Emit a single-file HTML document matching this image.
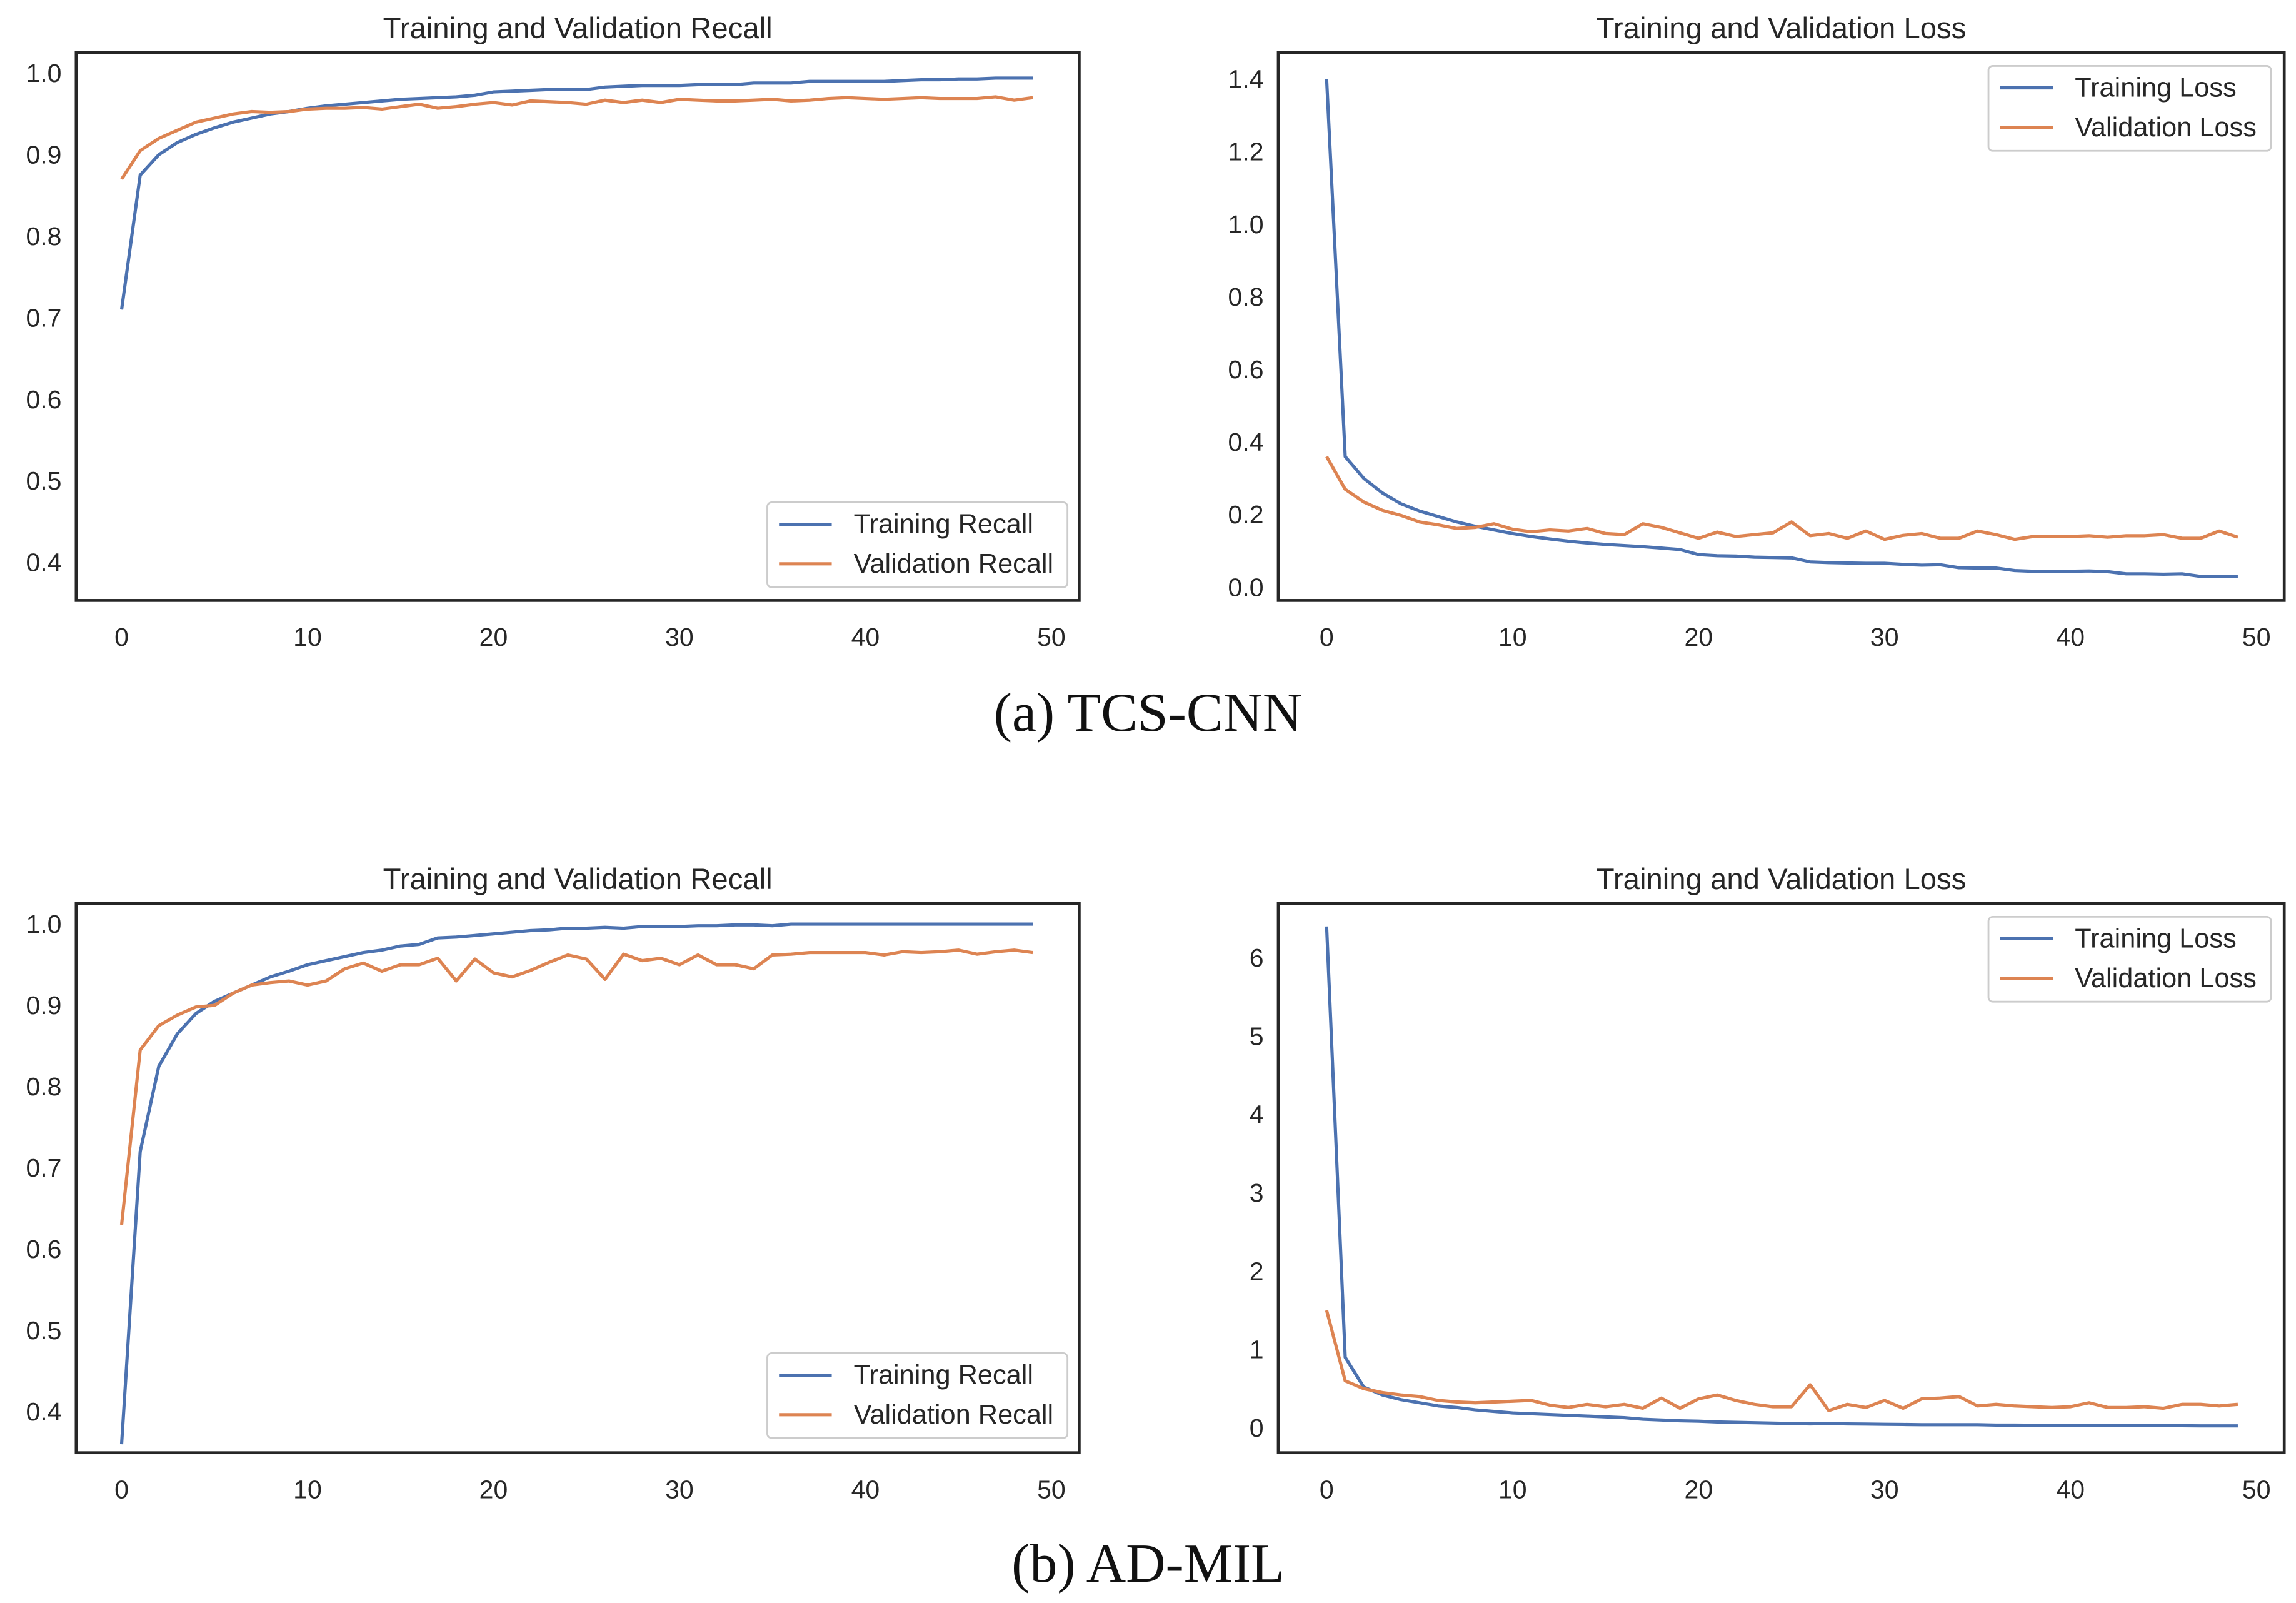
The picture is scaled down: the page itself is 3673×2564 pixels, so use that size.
<!DOCTYPE html>
<html><head><meta charset="utf-8"><style>
html,body{margin:0;padding:0;background:#fff;}
svg{display:block;}
</style></head><body>
<svg id="fig" xmlns="http://www.w3.org/2000/svg" width="3673" height="2564" viewBox="0 0 1568 1094.6" font-family="'Liberation Sans', sans-serif">
<rect width="1568" height="1095" fill="#fff"/>
<text x="784" y="499" text-anchor="middle" font-family="'Liberation Serif', serif" font-size="37.5" fill="#111">(a) TCS-CNN</text>
<text x="784" y="1080" text-anchor="middle" font-family="'Liberation Serif', serif" font-size="37.5" fill="#111">(b) AD-MIL</text>
</svg>
<script>
const epochs = Array.from({length:50},(_,i)=>i);
const xTicks = [0,10,20,30,40,50];
const recallATrain = [0.71,0.875,0.90,0.915,0.925,0.933,0.94,0.945,0.95,0.953,0.957,0.96,0.962,0.964,0.966,0.968,0.969,0.97,0.971,0.973,0.977,0.978,0.979,0.98,0.98,0.98,0.983,0.984,0.985,0.985,0.985,0.986,0.986,0.986,0.988,0.988,0.988,0.99,0.99,0.99,0.99,0.99,0.991,0.992,0.992,0.993,0.993,0.994,0.994,0.994];
const recallAVal = [0.87,0.905,0.92,0.93,0.94,0.945,0.95,0.953,0.952,0.953,0.956,0.957,0.957,0.958,0.956,0.959,0.962,0.957,0.959,0.962,0.964,0.961,0.966,0.965,0.964,0.962,0.967,0.964,0.967,0.964,0.968,0.967,0.966,0.966,0.967,0.968,0.966,0.967,0.969,0.97,0.969,0.968,0.969,0.97,0.969,0.969,0.969,0.971,0.967,0.97];
const lossATrain = [1.40,0.36,0.30,0.26,0.23,0.21,0.195,0.18,0.168,0.158,0.148,0.14,0.133,0.127,0.122,0.118,0.115,0.112,0.108,0.104,0.09,0.087,0.086,0.083,0.082,0.081,0.07,0.068,0.067,0.066,0.066,0.063,0.061,0.062,0.054,0.053,0.053,0.046,0.044,0.044,0.044,0.045,0.043,0.037,0.037,0.036,0.037,0.03,0.03,0.03];
const lossAVal = [0.36,0.27,0.235,0.212,0.198,0.18,0.172,0.162,0.165,0.175,0.16,0.153,0.158,0.155,0.162,0.148,0.145,0.175,0.165,0.15,0.135,0.152,0.14,0.145,0.15,0.18,0.142,0.148,0.135,0.155,0.132,0.143,0.148,0.135,0.135,0.155,0.145,0.132,0.14,0.14,0.14,0.142,0.138,0.142,0.142,0.145,0.135,0.135,0.155,0.138];
const recallBTrain = [0.36,0.72,0.825,0.865,0.89,0.905,0.915,0.925,0.935,0.942,0.95,0.955,0.96,0.965,0.968,0.973,0.975,0.983,0.984,0.986,0.988,0.99,0.992,0.993,0.995,0.995,0.996,0.995,0.997,0.997,0.997,0.998,0.998,0.999,0.999,0.998,1.0,1.0,1.0,1.0,1.0,1.0,1.0,1.0,1.0,1.0,1.0,1.0,1.0,1.0];
const recallBVal = [0.63,0.845,0.875,0.888,0.898,0.9,0.915,0.925,0.928,0.93,0.925,0.93,0.945,0.952,0.942,0.95,0.95,0.958,0.93,0.957,0.94,0.935,0.943,0.953,0.962,0.957,0.932,0.963,0.955,0.958,0.95,0.962,0.95,0.95,0.945,0.962,0.963,0.965,0.965,0.965,0.965,0.962,0.966,0.965,0.966,0.968,0.963,0.966,0.968,0.965];
const lossBTrain = [6.4,0.9,0.52,0.42,0.36,0.32,0.28,0.26,0.23,0.21,0.19,0.18,0.17,0.16,0.15,0.14,0.13,0.11,0.1,0.09,0.085,0.075,0.07,0.065,0.06,0.055,0.05,0.055,0.05,0.048,0.045,0.043,0.04,0.04,0.04,0.04,0.035,0.035,0.033,0.033,0.03,0.03,0.03,0.028,0.028,0.027,0.027,0.025,0.025,0.025];
const lossBVal = [1.5,0.6,0.5,0.45,0.42,0.4,0.35,0.33,0.32,0.33,0.34,0.35,0.29,0.26,0.3,0.27,0.3,0.25,0.38,0.25,0.37,0.42,0.35,0.3,0.27,0.27,0.55,0.22,0.3,0.26,0.35,0.25,0.37,0.38,0.4,0.28,0.3,0.28,0.27,0.26,0.27,0.32,0.26,0.26,0.27,0.25,0.3,0.3,0.28,0.3];
const recallTicks = [0.4,0.5,0.6,0.7,0.8,0.9,1.0];
const lossATicks = [0.0,0.2,0.4,0.6,0.8,1.0,1.2,1.4];
const lossBTicks = [0,1,2,3,4,5,6];

const NS='http://www.w3.org/2000/svg';
const svg=document.getElementById('fig');
function mk(tag,attrs,parent){const e=document.createElementNS(NS,tag);for(const k in attrs)e.setAttribute(k,attrs[k]);(parent||svg).appendChild(e);return e;}

function panel(id,box,x0px,x50px,yA,yApx,yB,yBpx,ticks,fmt,title,train,val,names,legendPos){
  const g=mk('g',{});
  
  
  const xs=v=>x0px+(x50px-x0px)*v/50;
  const ys=v=>yApx+(yBpx-yApx)*(v-yA)/(yB-yA);
  const t=mk('text',{x:(box[0]+box[2])/2,y:box[1]-10,'text-anchor':'middle','font-size':20.2,fill:'#262626'},g);
  t.textContent=title;
  
  
  xTicks.forEach(v=>{const l=mk('text',{x:xs(v),y:box[3]+31,'text-anchor':'middle','font-size':17.5,fill:'#262626'},g);l.textContent=v;
    
    });
  ticks.forEach(v=>{const l=mk('text',{x:box[0]-10,y:ys(v)+6,'text-anchor':'end','font-size':17.5,fill:'#262626'},g);l.textContent=fmt(v);
    
    });
  const series=[[train,'#4c72b0','train-line'],[val,'#dd8452','val-line']];
  series.forEach(([d,c,n])=>{const p=mk('polyline',{points:d.map((v,i)=>xs(epochs[i])+','+ys(v)).join(' '),fill:'none',stroke:c,'stroke-width':2.2,'stroke-linejoin':'round'},g);
    
    });
  const r=mk('rect',{x:box[0],y:box[1],width:box[2]-box[0],height:box[3]-box[1],fill:'none',stroke:'#262626','stroke-width':2},g);
  
  
  const [lx,ly,lw]=legendPos;
  const lg=mk('g',{},g);
  
  
  mk('rect',{x:lx,y:ly,width:lw,height:58,rx:3,fill:'#fff',stroke:'#ccc','stroke-width':1.2},lg);
  names.forEach((nm,i)=>{const yy=ly+15+i*27;
    mk('line',{x1:lx+8,x2:lx+44,y1:yy,y2:yy,stroke:series[i][1],'stroke-width':2.2},lg);
    const tt=mk('text',{x:lx+59,y:yy+6,'font-size':18.5,fill:'#262626'},lg);tt.textContent=nm;
    
    });
}
const f1=v=>v.toFixed(1), f0=v=>String(v);
panel('recall-chart-a',[52,36,737,410],83,718,1.0,50,0.4,384,recallTicks,f1,'Training and Validation Recall',recallATrain,recallAVal,['Training Recall','Validation Recall'],[524,343,205]);
panel('loss-chart-a',[873,36,1560,410],906,1541,1.4,54,0.0,401,lossATicks,f1,'Training and Validation Loss',lossATrain,lossAVal,['Training Loss','Validation Loss'],[1358,45,193]);
panel('recall-chart-b',[52,617,737,992],83,718,1.0,631,0.4,964,recallTicks,f1,'Training and Validation Recall',recallBTrain,recallBVal,['Training Recall','Validation Recall'],[524,924,205]);
panel('loss-chart-b',[873,617,1560,992],906,1541,6,654,0,975,lossBTicks,f0,'Training and Validation Loss',lossBTrain,lossBVal,['Training Loss','Validation Loss'],[1358,626,193]);
</script>
</body></html>
